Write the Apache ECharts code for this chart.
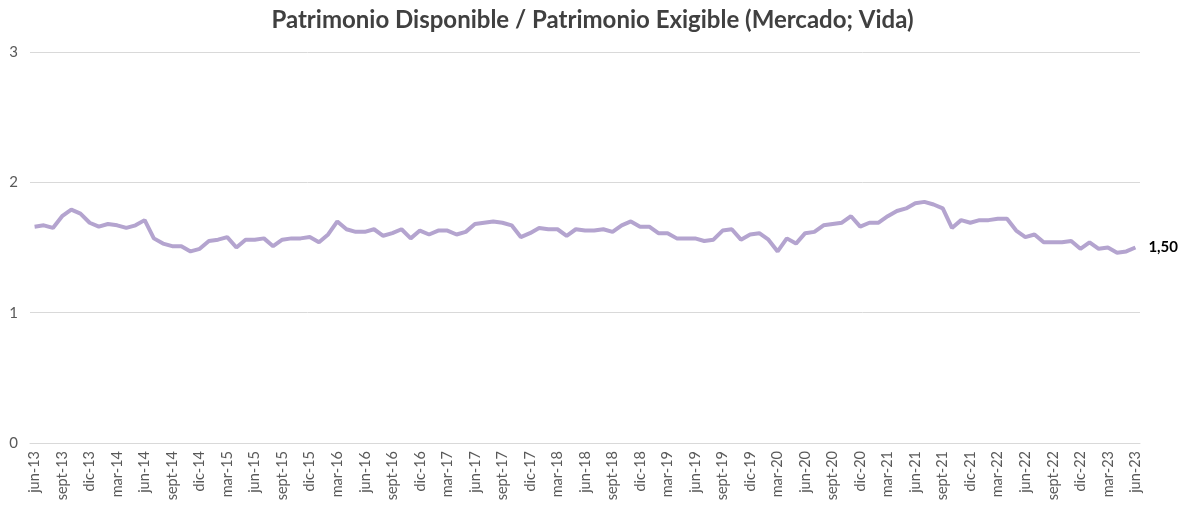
<!DOCTYPE html>
<html>
<head>
<meta charset="utf-8">
<script src="https://cdn.jsdelivr.net/npm/echarts@6/dist/echarts.min.js"></script>
<style>
  html, body { margin: 0; padding: 0; background: #fff; }
  #chart { width: 1185px; height: 506px; }
</style>
</head>
<body>
<div id="chart"></div>
<script>
// etiquetas de meses (jun-13 .. jun-23)
const monthNames = ['ene', 'feb', 'mar', 'abr', 'may', 'jun', 'jul', 'ago', 'sept', 'oct', 'nov', 'dic'];
const categories = [];
for (let y = 13; y <= 23; y++) {
  for (let m = 0; m < 12; m++) {
    if (y === 13 && m < 5) continue;
    if (y === 23 && m > 5) continue;
    categories.push(monthNames[m] + '-' + y);
  }
}

// Patrimonio Disponible / Patrimonio Exigible
const ratio2013 = [1.66, 1.67, 1.65, 1.74, 1.79, 1.76, 1.69];
const ratio2014 = [1.66, 1.68, 1.67, 1.65, 1.67, 1.71, 1.57, 1.53, 1.51, 1.51, 1.47, 1.49];
const ratio2015 = [1.55, 1.56, 1.58, 1.50, 1.56, 1.56, 1.57, 1.51, 1.56, 1.57, 1.57, 1.58];
const ratio2016 = [1.54, 1.60, 1.70, 1.64, 1.62, 1.62, 1.64, 1.59, 1.61, 1.64, 1.57, 1.63];
const ratio2017 = [1.60, 1.63, 1.63, 1.60, 1.62, 1.68, 1.69, 1.70, 1.69, 1.67, 1.58, 1.61];
const ratio2018 = [1.65, 1.64, 1.64, 1.59, 1.64, 1.63, 1.63, 1.64, 1.62, 1.67, 1.70, 1.66];
const ratio2019 = [1.66, 1.61, 1.61, 1.57, 1.57, 1.57, 1.55, 1.56, 1.63, 1.64, 1.56, 1.60];
const ratio2020 = [1.61, 1.56, 1.47, 1.57, 1.53, 1.61, 1.62, 1.67, 1.68, 1.69, 1.74, 1.66];
const ratio2021 = [1.69, 1.69, 1.74, 1.78, 1.80, 1.84, 1.85, 1.83, 1.80, 1.65, 1.71, 1.69];
const ratio2022 = [1.71, 1.71, 1.72, 1.72, 1.63, 1.58, 1.60, 1.54, 1.54, 1.54, 1.55, 1.49];
const ratio2023 = [1.54, 1.49, 1.50, 1.46, 1.47, 1.50];

const values = [].concat(ratio2013, ratio2014, ratio2015, ratio2016, ratio2017,
  ratio2018, ratio2019, ratio2020, ratio2021, ratio2022, ratio2023);

const yTicks = [0, 1, 2, 3];

const font = 'Lato, "Open Sans", sans-serif';

const chart = echarts.init(document.getElementById('chart'));
chart.setOption({
  animation: false,
  title: {
    text: 'Patrimonio Disponible / Patrimonio Exigible (Mercado; Vida)',
    left: 'center',
    top: 3,
    textStyle: { fontFamily: font, fontSize: 24, fontWeight: 'bold', color: '#404040' }
  },
  grid: { left: 30, right: 45, top: 52, bottom: 63 },
  xAxis: {
    type: 'category',
    data: categories,
    boundaryGap: true,
    axisLine: { lineStyle: { color: '#d9d9d9' } },
    axisTick: { show: false },
    axisLabel: {
      interval: 2,
      rotate: 90,
      margin: 8,
      color: '#595959',
      fontFamily: font,
      fontSize: 14.5
    }
  },
  yAxis: {
    type: 'value',
    min: yTicks[0],
    max: yTicks[yTicks.length - 1],
    interval: 1,
    axisLine: { show: false },
    axisTick: { show: false },
    splitLine: { lineStyle: { color: '#d9d9d9', width: 1 } },
    axisLabel: { color: '#595959', fontFamily: font, fontSize: 15, margin: 12 }
  },
  series: [{
    type: 'line',
    data: values,
    symbol: 'none',
    lineStyle: { color: '#b4a4cf', width: 4 },
    itemStyle: { color: '#b4a4cf' },
    endLabel: {
      show: true,
      distance: 13,
      color: '#000',
      fontWeight: 'bold',
      fontFamily: font,
      fontSize: 15,
      formatter: p => p.value.toFixed(2).replace('.', ',')
    }
  }]
});
</script>
</body>
</html>
